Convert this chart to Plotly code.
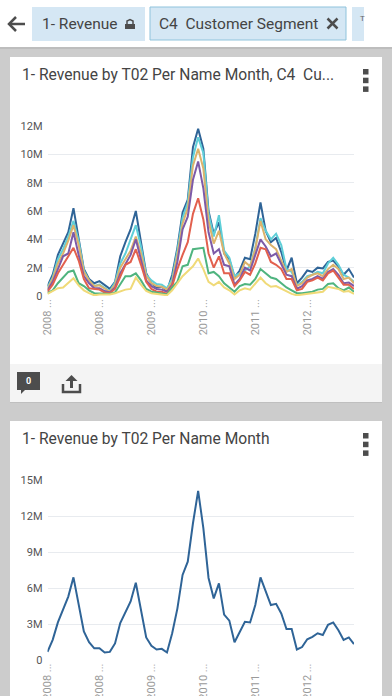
import plotly.graph_objects as go

months = [f"{y}-{m:02d}" for y in range(2008, 2013) for m in range(1, 13)]
tick_months = months[::10]
tick_labels = ["2008 ...", "2008 ...", "2009 ...", "2010 ...", "2011 ...", "2012 ..."]

seg_blue = [.7,1.5,2.9,3.7,4.5,6.2,4.1,1.9,1.2,.9,1.05,.75,.5,1.0,2.8,3.8,4.7,6.0,3.9,1.6,.9,.6,.65,.35,1.5,3.4,5.9,6.8,10.5,11.8,10.4,6.0,4.4,5.2,3.0,2.6,1.3,1.8,2.7,2.6,4.4,6.6,4.6,3.8,4.1,3.1,1.8,2.7,.9,1.3,1.8,1.7,2.0,1.95,2.4,2.5,2.1,1.5,1.9,1.3]
seg_cyan = [.6,1.3,2.6,3.3,4.2,5.3,3.9,1.8,1.1,.7,.8,.55,.35,.95,2.3,3.0,4.0,5.0,3.5,1.5,1.1,.85,.8,.55,1.2,3.2,5.5,6.6,9.8,11.2,10.1,5.8,4.2,5.7,3.2,2.7,1.4,1.6,1.8,2.1,3.4,5.5,4.6,4.0,4.4,3.6,1.9,1.7,.75,1.0,1.4,1.5,1.7,1.6,2.3,2.7,2.2,1.5,1.3,1.0]
seg_tan = [.5,1.2,2.3,3.0,3.9,5.0,3.6,1.7,1.1,.7,.75,.5,.3,.8,2.0,2.6,3.2,4.2,3.0,1.4,.9,.7,.65,.45,1.0,2.9,5.1,6.2,9.2,10.4,9.0,5.3,3.7,4.6,3.0,2.3,1.2,1.5,2.4,2.1,3.3,5.3,4.0,3.6,3.3,2.5,1.7,1.9,.7,.9,1.3,1.5,1.6,1.4,1.9,2.2,1.9,1.2,1.3,.9]
seg_purple = [.4,1.0,1.9,2.8,3.0,4.5,2.9,1.4,.9,.55,.55,.35,.25,.6,1.6,2.3,2.9,4.0,2.6,1.1,.7,.5,.45,.3,.8,2.4,4.7,5.6,8.2,9.5,7.6,4.5,3.0,3.3,2.2,2.1,.8,1.2,2.0,1.8,2.9,4.0,3.5,2.8,3.0,2.3,1.5,1.4,.5,.7,1.1,1.2,1.4,1.2,1.7,1.9,1.5,.9,.95,.7]
seg_red = [.3,.8,1.6,2.2,2.8,3.4,2.5,1.2,.55,.5,.45,.25,.2,.5,1.3,2.2,2.4,3.3,2.2,1.0,.5,.3,.3,.15,.7,1.9,2.9,3.8,5.8,6.9,5.4,3.0,2.0,2.8,1.6,1.6,.7,1.1,1.7,1.5,2.3,3.4,3.3,2.4,2.2,1.9,1.2,1.2,.4,.5,1.0,1.1,1.3,1.1,1.6,1.8,1.3,.8,.8,.5]
seg_green = [.2,.4,.9,1.3,1.7,1.8,.9,.7,.4,.2,.2,.15,.15,.25,.8,1.4,1.4,1.6,1.1,.5,.3,.25,.2,.1,.6,1.0,2.1,2.2,3.3,3.35,3.4,1.6,1.7,1.4,.9,.6,.3,.7,.85,.8,1.2,1.9,1.6,1.3,1.2,.9,.6,.4,.2,.2,.25,.3,.45,.5,.85,.9,.55,.4,.6,.3]
seg_yellow = [.15,.35,.55,.6,.9,1.25,.75,.4,.2,.05,.1,.1,.1,.2,.35,.45,.5,1.3,.8,.35,.2,.15,.1,.05,.4,.9,1.4,1.75,2.1,2.65,1.9,1.0,.75,1.0,.6,.4,.1,.4,.55,.45,.9,1.3,.9,.65,.7,.5,.3,.15,.05,.1,.2,.2,.3,.3,.65,.6,.5,.3,.35,.15]
total = [.7,1.7,3.15,4.2,5.3,6.9,4.7,2.4,1.5,1.0,1.0,.65,.7,1.4,3.1,4.05,4.9,6.45,4.2,1.9,1.2,.9,.95,.65,2.25,4.3,7.1,8.2,11.4,14.1,11.0,6.85,5.15,6.4,3.8,3.3,1.5,2.4,3.2,3.15,4.6,6.9,5.8,4.6,4.7,3.9,2.6,2.6,.9,1.1,1.75,1.95,2.25,2.1,2.95,3.15,2.5,1.7,1.9,1.35]

segments = [("Segment 1", seg_blue, "#2f6497"), ("Segment 2", seg_cyan, "#5fcfd8"), ("Segment 3", seg_tan, "#dcb36c"),
            ("Segment 4", seg_purple, "#7d5ba8"), ("Segment 5", seg_red, "#e2604e"), ("Segment 6", seg_green, "#4fb47f"),
            ("Segment 7", seg_yellow, "#f0da78")]
top_ticks = [0, 2, 4, 6, 8, 10, 12]
top_text = ["0", "2M", "4M", "6M", "8M", "10M", "12M"]
low_ticks = [0, 3, 6, 9, 12, 15]
low_text = ["0", "3M", "6M", "9M", "12M", "15M"]

W, H = 392, 696
FONT = "Roboto, Arial, sans-serif"
fx = lambda x: x / W
fy = lambda y: 1 - y / H

fig = go.Figure()
for name, vals, col in segments:
    fig.add_trace(go.Scatter(x=months, y=vals, name=name, mode="lines", line=dict(color=col, width=2), xaxis="x", yaxis="y"))
fig.add_trace(go.Scatter(x=months, y=total, name="Revenue", mode="lines", line=dict(color="#2f6497", width=2), xaxis="x2", yaxis="y2"))


def xaxis(anchor):
    return dict(domain=[fx(47.5), fx(354)], type="category", categoryorder="array", categoryarray=months,
                range=[0, 59], tickmode="array", tickvals=tick_months, ticktext=tick_labels, tickangle=-90,
                showgrid=False, zeroline=False, showline=False, ticks="", anchor=anchor, automargin=False,
                tickfont=dict(family=FONT, size=11, color="#9a9a9a"), fixedrange=True)


def yaxis(anchor, top, bot, rng, vals, text):
    return dict(domain=[fy(bot), fy(top)], range=rng, tickmode="array", tickvals=vals, ticktext=text,
                showgrid=True, gridcolor="#e8ebef", gridwidth=1, zeroline=False, showline=False, ticks="", anchor=anchor,
                automargin=False, ticklabelstandoff=4, tickfont=dict(family=FONT, size=11, color="#555555"), fixedrange=True)


def rect(x0, y0, x1, y1, fill, line=None):
    return dict(type="rect", xref="paper", yref="paper", x0=fx(x0), x1=fx(x1), y0=fy(y0), y1=fy(y1), fillcolor=fill,
                line=dict(color=line or fill, width=1 if line else 0), layer="below")


def poly(points, fill=None, line=None, width=2, closed=True):
    path = "M" + " L".join(f"{fx(a):.5f} {fy(b):.5f}" for a, b in points) + (" Z" if closed else "")
    return dict(type="path", xref="paper", yref="paper", path=path, fillcolor=fill or "rgba(0,0,0,0)",
                line=dict(color=line or "rgba(0,0,0,0)", width=width if line else 0), layer="above")


def label(x, y, text, size, color="#444444", anchor="left"):
    return dict(xref="paper", yref="paper", x=fx(x), y=fy(y), text=text, showarrow=False, xanchor=anchor, yanchor="middle",
                borderpad=0, borderwidth=0, font=dict(family=FONT, size=size, color=color))


DARK = "#4d4d4d"
shapes = [
    rect(0, 0, 392, 47, "#ffffff"), rect(0, 47, 392, 49, "#bdbdbd"),
    rect(32, 7, 145, 41, "#d5e7f4"), rect(150, 7, 346, 40, "#d5e7f4", "#8fc3dc"), rect(352, 7, 364, 41, "#d5e7f4"),
    rect(10, 57, 382, 402, "#ffffff"), rect(10, 364, 382, 402, "#f4f4f4"), rect(10, 402, 382, 403, "#bfbfbf"),
    rect(10, 421, 382, 696, "#ffffff"),
    # back arrow
    poly([(9, 24), (25, 24)], line=DARK, width=2.5, closed=False),
    poly([(16, 17), (9, 24), (16, 31)], line=DARK, width=2.5, closed=False),
    # lock
    rect(125, 24, 135, 29, DARK) | {"layer": "above"},
    poly([(127, 24), (127, 21), (130, 19.5), (133, 21), (133, 24)], line=DARK, width=1.5, closed=False),
    # close mark
    poly([(327.5, 18.5), (337.5, 28.5)], line=DARK, width=2.5, closed=False),
    poly([(337.5, 18.5), (327.5, 28.5)], line=DARK, width=2.5, closed=False),
    # speech bubble
    poly([(17, 372), (40, 372), (40, 390), (25, 390), (21, 394), (21, 390), (17, 390)], fill=DARK),
    # share icon
    poly([(63, 384), (63, 392), (80, 392), (80, 384)], line=DARK, width=2.5, closed=False),
    poly([(71.5, 388), (71.5, 378)], line=DARK, width=3, closed=False),
    poly([(65.5, 381), (71.5, 375), (77.5, 381)], fill=DARK),
]
for top in (69, 433):
    for k in range(3):
        y0 = top + k * 8.7
        shapes.append(rect(363, y0, 368.5, y0 + 5.5, DARK) | {"layer": "above"})

annotations = [
    label(42, 24, "1- Revenue", 15.5),
    label(159, 24, "C4  Customer Segment", 15.5),
    label(360, 19, "T", 8, "#666666"),
    label(22, 75, "1- Revenue by T02 Per Name Month, C4  Cu...", 15.6),
    label(22, 439, "1- Revenue by T02 Per Name Month", 15.6),
    label(28.5, 381, "<b>0</b>", 9, "#ffffff", "center"),
]

fig.update_layout(
    width=W, height=H, margin=dict(l=0, r=0, t=0, b=0), showlegend=False,
    paper_bgcolor="#cccccc", plot_bgcolor="rgba(0,0,0,0)",
    xaxis=xaxis("y"), yaxis=yaxis("x", 126, 296, [0, 12], top_ticks, top_text),
    xaxis2=xaxis("y2"), yaxis2=yaxis("x2", 480, 660.3, [0, 15], low_ticks, low_text),
    shapes=shapes, annotations=annotations,
)
fig.write_html("out.html", config={"displayModeBar": False},
               post_script="document.body.style.margin='0';document.body.style.overflow='hidden';")
